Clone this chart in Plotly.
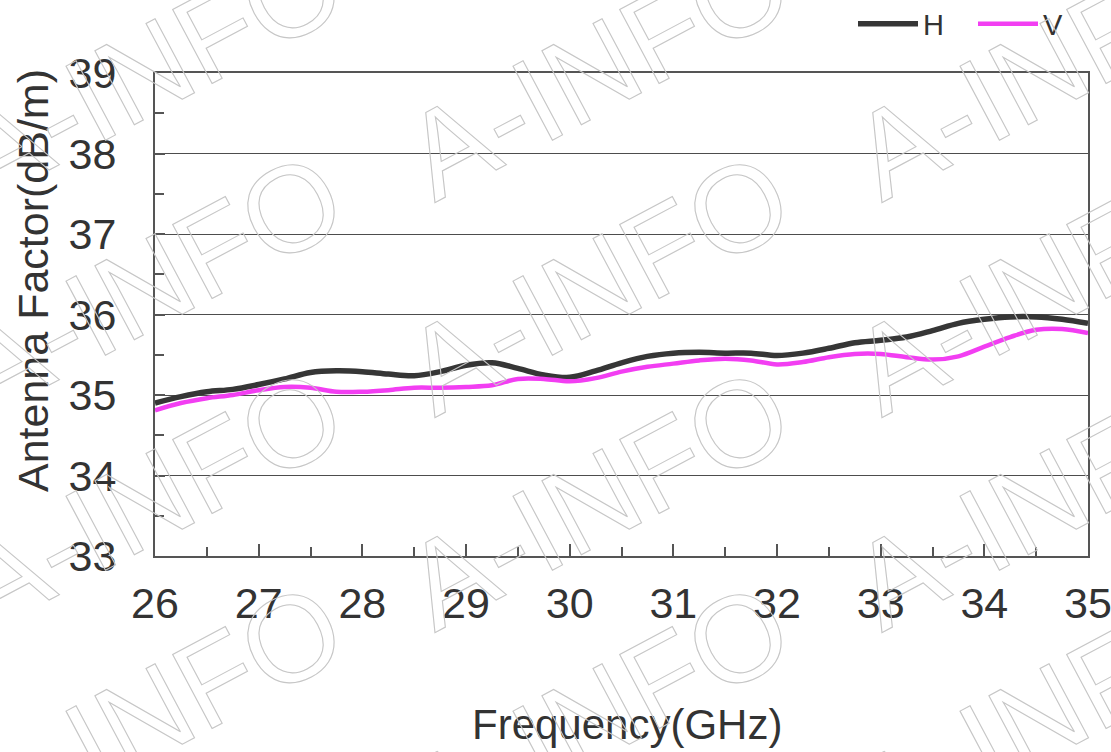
import plotly.graph_objects as go

# ---- data ----
freq_ghz = [26.00, 26.25, 26.50, 26.75, 27.00, 27.25, 27.50, 27.75,
            28.00, 28.25, 28.50, 28.75, 29.00, 29.25, 29.50, 29.75,
            30.00, 30.25, 30.50, 30.75, 31.00, 31.25, 31.50, 31.75,
            32.00, 32.25, 32.50, 32.75, 33.00, 33.25, 33.50, 33.75,
            34.00, 34.25, 34.50, 34.75, 35.00]

af_h = [34.90, 34.98, 35.04, 35.07, 35.13, 35.20, 35.28, 35.30,
        35.29, 35.26, 35.24, 35.29, 35.37, 35.40, 35.33, 35.25,
        35.22, 35.30, 35.40, 35.48, 35.52, 35.53, 35.52, 35.52,
        35.49, 35.52, 35.58, 35.65, 35.68, 35.72, 35.80, 35.89,
        35.94, 35.97, 35.97, 35.94, 35.89]

af_v = [34.81, 34.90, 34.96, 35.00, 35.06, 35.10, 35.09, 35.04,
        35.04, 35.06, 35.09, 35.09, 35.10, 35.12, 35.20, 35.20,
        35.17, 35.21, 35.29, 35.35, 35.39, 35.43, 35.45, 35.43,
        35.38, 35.41, 35.47, 35.51, 35.51, 35.47, 35.44, 35.48,
        35.60, 35.72, 35.81, 35.82, 35.77]

series_names = ["H", "V"]
x_tick_vals = [26, 27, 28, 29, 30, 31, 32, 33, 34, 35]
y_tick_vals = [33, 34, 35, 36, 37, 38, 39]
x_title = "Frequency(GHz)"
y_title = "Antenna Factor(dB/m)"
watermark_text = "A-INFO"

# ---- styling ----
FONT = "Liberation Sans, Arial, Helvetica, sans-serif"
TXT = "#333333"
AXIS = "#555555"
W, H = 1111, 752
L, R, T, B = 155, 23, 73, 196
PW, PH = W - L - R, H - T - B


def px_to_paper(px, py):
    return (px - L) / PW, (T + PH - py) / PH


fig = go.Figure()
fig.add_trace(go.Scatter(x=freq_ghz, y=af_h, name=series_names[0], mode="lines",
                         line=dict(color="#363636", width=5.5, shape="spline", smoothing=1.0)))
fig.add_trace(go.Scatter(x=freq_ghz, y=af_v, name=series_names[1], mode="lines",
                         line=dict(color="#f23ef2", width=4.5, shape="spline", smoothing=1.0)))

annotations = []
# axis titles
ax, ay = px_to_paper(33, 281)
annotations.append(dict(text=y_title, x=ax, y=ay, xref="paper", yref="paper",
                        showarrow=False, textangle=-90, xanchor="center", yanchor="middle",
                        font=dict(family=FONT, size=43, color=TXT)))
bx, by = px_to_paper(627, 724)
annotations.append(dict(text=x_title, x=bx, y=by, xref="paper", yref="paper",
                        showarrow=False, xanchor="center", yanchor="middle",
                        font=dict(family=FONT, size=42, color=TXT)))

# outlined watermark (stroke applied in post_script)
for i in range(-1, 3):
    for j in range(0, 5):
        cx = 150 + 447 * i
        cy = 69 + 215 * j
        wx, wy = px_to_paper(cx, cy)
        annotations.append(dict(text=watermark_text, x=wx, y=wy, xref="paper", yref="paper",
                                showarrow=False, textangle=-28, xanchor="center", yanchor="middle",
                                font=dict(family=FONT, size=122, color="rgba(0,0,0,0)")))

lx, ly = px_to_paper(853, 24)
fig.update_layout(
    template="none",
    width=W, height=H,
    margin=dict(l=L, r=R, t=T, b=B, pad=0, autoexpand=False),
    paper_bgcolor="white", plot_bgcolor="white",
    font=dict(family=FONT, color=TXT),
    showlegend=True,
    legend=dict(orientation="h", x=lx, xanchor="left", y=ly, yanchor="middle",
                font=dict(family=FONT, size=29, color=TXT), bgcolor="rgba(0,0,0,0)",
                borderwidth=0, itemwidth=60, entrywidth=45, traceorder="normal"),
    annotations=annotations,
)

fig.update_xaxes(range=[26, 35], tickvals=x_tick_vals, ticks="inside", ticklen=12, tickwidth=1.5,
                 tickcolor=AXIS, showline=True, linecolor=AXIS, linewidth=2, mirror=True,
                 showgrid=False, zeroline=False, ticklabelstandoff=8, automargin=False,
                 ticklabeloverflow="allow",
                 tickfont=dict(family=FONT, size=43, color=TXT),
                 minor=dict(dtick=0.5, ticks="inside", ticklen=9, tickwidth=1.5, tickcolor=AXIS,
                            showgrid=False))
fig.update_yaxes(range=[33, 39], tickvals=y_tick_vals, ticks="inside", ticklen=10, tickwidth=1.5,
                 tickcolor=AXIS, showline=True, linecolor=AXIS, linewidth=2, mirror=True,
                 showgrid=True, gridcolor="#4d4d4d", gridwidth=1.2, zeroline=False,
                 ticklabelstandoff=28, automargin=False, ticklabeloverflow="allow",
                 tickfont=dict(family=FONT, size=43, color=TXT),
                 minor=dict(dtick=0.5, ticks="inside", ticklen=9, tickwidth=1.5, tickcolor=AXIS,
                            showgrid=False))

post = """
document.body.style.margin = '0';
document.body.style.overflow = 'hidden';
var gd = document.getElementById('{plot_id}');
function wm(){
  document.querySelectorAll('.annotation-text').forEach(function(t){
    if (t.textContent === 'A-INFO') {
      t.style.fill = 'none';
      t.style.stroke = '#c6c6c6';
      t.style.strokeWidth = '1.1px';
    }
  });
}
wm(); setTimeout(wm, 30); setTimeout(wm, 300);
if (gd && gd.on) { gd.on('plotly_afterplot', wm); }
"""

fig.write_html("out.html", post_script=post, config={"displayModeBar": False})
